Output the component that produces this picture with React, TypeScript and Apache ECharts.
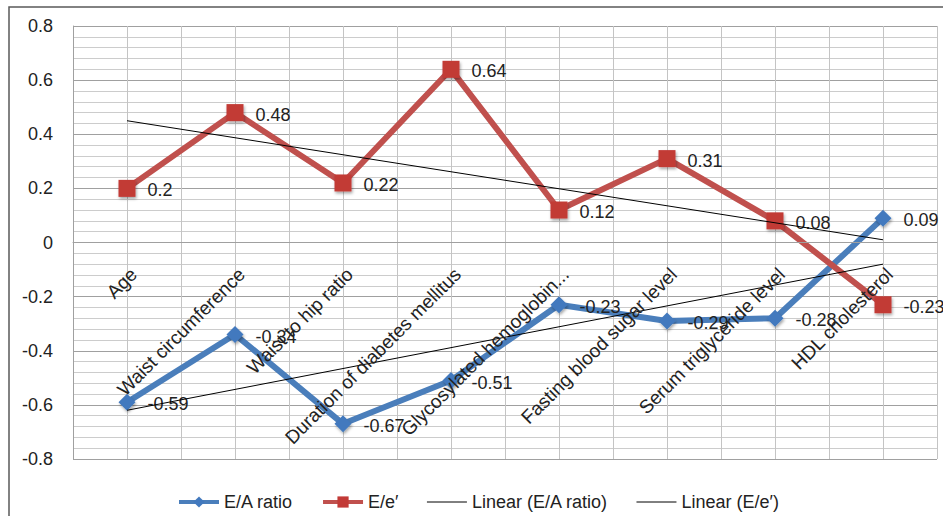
import React, { useEffect, useRef } from "react";
import * as echarts from "echarts";

const categories = [
  "Age",
  "Waist circumference",
  "Waist to hip ratio",
  "Duration of diabetes mellitus",
  "Glycosylated hemoglobin...",
  "Fasting blood sugar level",
  "Serum triglyceride level",
  "HDL cholesterol",
];
const eaRatio = [-0.59, -0.34, -0.67, -0.51, -0.23, -0.29, -0.28, 0.09];
const eePrime = [0.2, 0.48, 0.22, 0.64, 0.12, 0.31, 0.08, -0.23];
// trend lines (first and last category)
const trendEA = [-0.62, null, null, null, null, null, null, -0.08];
const trendEE = [0.45, null, null, null, null, null, null, 0.01];
const seriesNames = ["E/A ratio", "E/e\u2032", "Linear (E/A ratio)", "Linear (E/e\u2032)"];

const FONT = "Liberation Sans";
const GRID_TOP = 26;
const GRID_BOTTOM = 57;
const HEIGHT = 516;
const Y_MIN = -0.8;
const Y_MAX = 0.8;

export default function App() {
  const ref = useRef<HTMLDivElement>(null);
  useEffect(() => {
    if (!ref.current) return;
    const chart = echarts.init(ref.current, null, { renderer: "svg" });
    const plotH = HEIGHT - GRID_TOP - GRID_BOTTOM;
    // move the category axis up to the zero line
    const zeroOffset = -(plotH * (0 - Y_MIN)) / (Y_MAX - Y_MIN);
    const labelStyle = {
      show: true,
      position: "right" as const,
      distance: 12,
      color: "#222",
      fontFamily: FONT,
      fontSize: 18,
      offset: [0, 2],
    };
    chart.setOption({
      animation: false,
      textStyle: { fontFamily: FONT },
      graphic: [
        {
          type: "rect",
          shape: { x: 9, y: 7, width: 1000, height: 600 },
          style: { fill: "none", stroke: "#5a5a5a", lineWidth: 1.5 },
          z: 0,
        },
      ],
      grid: {
        left: 73,
        right: 6,
        top: GRID_TOP,
        bottom: GRID_BOTTOM,
        containLabel: false,
        outerBoundsMode: "none",
      },
      legend: {
        left: 177,
        top: 493,
        padding: 0,
        itemWidth: 40,
        itemHeight: 14,
        itemGap: 28,
        textStyle: { fontFamily: FONT, fontSize: 18, color: "#222" },
        data: [
          { name: seriesNames[0], lineStyle: { width: 4 } },
          { name: seriesNames[1], lineStyle: { width: 4 } },
          {
            name: seriesNames[2],
            lineStyle: { width: 1 },
            itemStyle: { color: "transparent", borderWidth: 0, opacity: 0 },
          },
          {
            name: seriesNames[3],
            lineStyle: { width: 1 },
            itemStyle: { color: "transparent", borderWidth: 0, opacity: 0 },
          },
        ],
      },
      xAxis: [
        {
          type: "category",
          data: categories,
          boundaryGap: true,
          position: "bottom",
          offset: zeroOffset,
          z: 5,
          axisLine: { show: true, onZero: false, lineStyle: { color: "#a0a0a0", width: 1 } },
          axisTick: { show: false },
          splitLine: { show: false },
          axisLabel: {
            rotate: 45,
            interval: 0,
            margin: 22,
            verticalAlign: "top",
            fontFamily: FONT,
            fontSize: 19,
            color: "#222",
          },
        },
        {
          type: "value",
          min: 0,
          max: 16,
          interval: 1,
          position: "top",
          show: true,
          axisLine: { show: false, onZero: false },
          axisTick: { show: false },
          axisLabel: { show: false },
          splitLine: { show: true, lineStyle: { color: "#c4c4c4", width: 1 } },
        },
      ],
      yAxis: {
        type: "value",
        min: Y_MIN,
        max: Y_MAX,
        interval: 0.2,
        axisLine: { show: true, onZero: false, lineStyle: { color: "#a0a0a0" } },
        axisTick: { show: false },
        axisLabel: {
          margin: 20,
          fontFamily: FONT,
          fontSize: 18,
          color: "#222",
        },
        splitLine: { show: true, lineStyle: { color: "#a0a0a0", width: 1 } },
        minorTick: { show: false, splitNumber: 5 },
        minorSplitLine: { show: true, lineStyle: { color: "#cccccc", width: 1 } },
      },
      series: [
        {
          name: seriesNames[0],
          type: "line",
          data: eaRatio,
          symbol: "diamond",
          symbolSize: 17,
          lineStyle: { color: "#4a7ebb", width: 6 },
          itemStyle: {
            color: "#4279be",
            shadowColor: "rgba(0,0,0,0.35)",
            shadowBlur: 3,
            shadowOffsetX: 1,
            shadowOffsetY: 2,
          },
          label: labelStyle,
          z: 2,
        },
        {
          name: seriesNames[1],
          type: "line",
          data: eePrime,
          symbol: "rect",
          symbolSize: 17,
          lineStyle: { color: "#c0504d", width: 6 },
          itemStyle: {
            color: "#c23a36",
            shadowColor: "rgba(0,0,0,0.35)",
            shadowBlur: 3,
            shadowOffsetX: 1,
            shadowOffsetY: 2,
          },
          label: labelStyle,
          z: 3,
        },
        {
          name: seriesNames[2],
          type: "line",
          data: trendEA,
          connectNulls: true,
          symbol: "none",
          lineStyle: { color: "#000", width: 1 },
          itemStyle: { color: "#000" },
          z: 4,
        },
        {
          name: seriesNames[3],
          type: "line",
          data: trendEE,
          connectNulls: true,
          symbol: "none",
          lineStyle: { color: "#000", width: 1 },
          itemStyle: { color: "#000" },
          z: 4,
        },
      ],
    });
    return () => chart.dispose();
  }, []);
  return (
    <div
      ref={ref}
      style={{ position: "absolute", left: 0, top: 0, width: 943, height: HEIGHT, background: "#fff" }}
    />
  );
}
